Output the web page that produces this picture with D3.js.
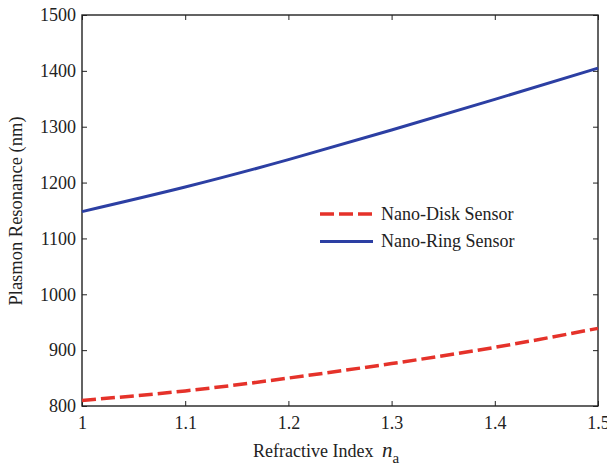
<!DOCTYPE html>
<html><head><meta charset="utf-8">
<script src="https://cdn.jsdelivr.net/npm/d3@7"></script>
<style>body{margin:0;background:#fff}svg{display:block}</style>
</head><body>
<script>
const indexValues = [1.0, 1.1, 1.2, 1.3, 1.4, 1.5];
const ringValues  = [1148, 1192, 1241, 1294, 1349, 1405];
const diskValues  = [810, 827, 850, 876, 905, 939];
const xTicks = [1, 1.1, 1.2, 1.3, 1.4, 1.5];
const yTicks = [800, 900, 1000, 1100, 1200, 1300, 1400, 1500];
const seriesNames = ["Nano-Disk Sensor", "Nano-Ring Sensor"];

const W = 607, H = 468;
const m = {l: 82, r: 9, t: 15, b: 62};
const svg = d3.select("body").append("svg").attr("width", W).attr("height", H)
  .style("font-family", "'Liberation Serif', 'Times New Roman', serif");
const x = d3.scaleLinear().domain([1, 1.5]).range([m.l, W - m.r]);
const y = d3.scaleLinear().domain([800, 1500]).range([H - m.b, m.t]);

const fmtX = d => d === 1 ? "1" : d3.format(".1f")(d);
const tickLen = 5;
const gx = svg.append("g").attr("transform", `translate(0,${y(800)})`)
  .call(d3.axisBottom(x).tickValues(xTicks).tickFormat(fmtX).tickSizeInner(-tickLen).tickSizeOuter(0).tickPadding(10));
const gxt = svg.append("g").attr("transform", `translate(0,${y(1500)})`)
  .call(d3.axisTop(x).tickValues(xTicks).tickFormat("").tickSizeInner(-tickLen).tickSizeOuter(0));
const gy = svg.append("g").attr("transform", `translate(${x(1)},0)`)
  .call(d3.axisLeft(y).tickValues(yTicks).tickFormat(d3.format("d")).tickSizeInner(-tickLen).tickSizeOuter(0).tickPadding(6));
const gyr = svg.append("g").attr("transform", `translate(${x(1.5)},0)`)
  .call(d3.axisRight(y).tickValues(yTicks).tickFormat("").tickSizeInner(-tickLen).tickSizeOuter(0));
[gx, gxt, gy, gyr].forEach(g => {
  g.attr("font-family", null);
  g.select(".domain").remove();
  g.selectAll("line").attr("stroke", "#222").attr("stroke-width", 1);
  g.selectAll("text").attr("fill", "#222").style("font-size", "18px").style("font-family", "'Liberation Serif', serif");
});
svg.append("rect").attr("x", x(1)).attr("y", y(1500)).attr("width", x(1.5) - x(1)).attr("height", y(800) - y(1500))
  .attr("fill", "none").attr("stroke", "#222").attr("stroke-width", 1.4);

const line = d3.line().x(d => x(d[0])).y(d => y(d[1])).curve(d3.curveNatural);
svg.append("path").datum(indexValues.map((v, i) => [v, ringValues[i]]))
  .attr("d", line).attr("fill", "none").attr("stroke", "#2c3fa3").attr("stroke-width", 3);
svg.append("path").datum(indexValues.map((v, i) => [v, diskValues[i]]))
  .attr("d", line).attr("fill", "none").attr("stroke", "#e5322a").attr("stroke-width", 3.5)
  .attr("stroke-dasharray", "14,5");

const lg = svg.append("g");
const lItems = [{name: seriesNames[0], color: "#e5322a", dash: "14,5", w: 3.5, yy: 214},
                {name: seriesNames[1], color: "#2c3fa3", dash: null, w: 3, yy: 241.5}];
lItems.forEach(it => {
  lg.append("line").attr("x1", 320).attr("x2", 373).attr("y1", it.yy).attr("y2", it.yy)
    .attr("stroke", it.color).attr("stroke-width", it.w).attr("stroke-dasharray", it.dash);
  lg.append("text").attr("x", 381).attr("y", it.yy + 5.5).text(it.name)
    .style("font-size", "18px").attr("fill", "#222");
});

const xl = svg.append("text").attr("x", 253).attr("y", 457).attr("fill", "#222").style("font-size", "18px");
xl.append("tspan").text("Refractive Index ");
xl.append("tspan").text("n").attr("dx", 4).style("font-style", "italic").style("font-size", "21px");
xl.append("tspan").text("a").attr("dy", 6).style("font-size", "15px");
svg.append("text").attr("transform", "translate(22,211) rotate(-90)").attr("text-anchor", "middle")
  .attr("fill", "#222").style("font-size", "18.5px").text("Plasmon Resonance (nm)");
</script>
</body></html>
